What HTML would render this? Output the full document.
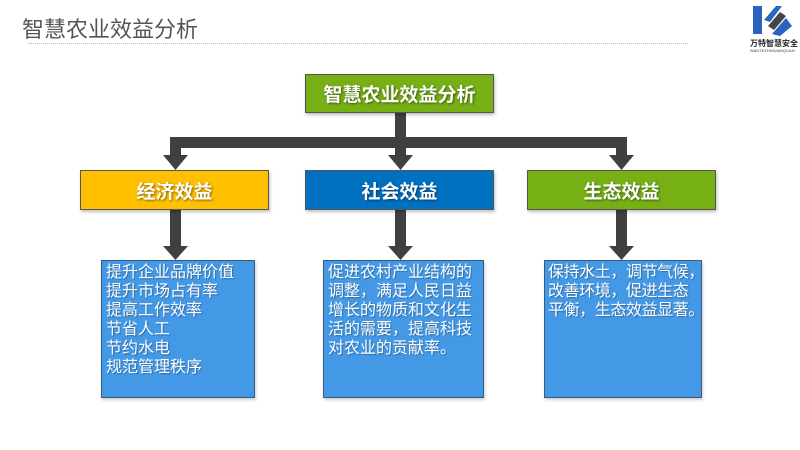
<!DOCTYPE html>
<html><head><meta charset="utf-8"><style>
body{margin:0;width:800px;height:450px;background:#fff;position:relative;overflow:hidden;font-family:"Liberation Sans","Noto Sans CJK SC",sans-serif}
.a{position:absolute}
.box{position:absolute;color:#fff;font-weight:bold;font-size:19px;display:flex;align-items:center;justify-content:center;border:1px solid #555;box-sizing:border-box;text-shadow:1px 1px 2px rgba(0,0,0,.5);box-shadow:1px 2px 3px rgba(0,0,0,.25)}
.lo{position:absolute;background:#4499E6;border:1px solid #3a5a80;box-sizing:border-box;color:#fff;font-size:16px;line-height:19px;padding:2px 4px;white-space:nowrap;box-shadow:1px 2px 3px rgba(0,0,0,.2);text-shadow:1px 1px 1px rgba(0,0,0,.3)}
</style></head><body>
<div class="a" style="left:22px;top:12px;font-size:22px;color:#555">智慧农业效益分析</div>
<div class="a" style="left:28px;top:43px;width:660px;border-top:1px dotted #bbb"></div>
<svg class="a" style="left:750px;top:4px" width="48" height="50">
<polygon points="3,2 12,2 12,30 3,30" fill="#2b63c0"/>
<polygon points="14,16 26,2 32,2 20,18" fill="#2b63c0"/>
<polygon points="18,22 30,8 36,12 24,26" fill="#444"/>
<polygon points="22,30 36,14 42,22 30,32" fill="#2b63c0"/>
<text x="0" y="42" font-size="8" font-weight="bold" fill="#222" font-family="Noto Sans CJK SC">万特智慧安全</text>
<text x="0" y="48" font-size="4" fill="#444">WANTEZHIHUIANQUAN</text>
</svg>
<svg class="a" style="left:0;top:0" width="800" height="450">
<g fill="#404040">
<rect x="395" y="112" width="11" height="30"/>
<rect x="170" y="137" width="457" height="11"/>
<rect x="170" y="137" width="11" height="20"/><polygon points="163,155 188,155 175.5,170"/>
<rect x="395" y="137" width="11" height="20"/><polygon points="388,155 413,155 400.5,170"/>
<rect x="616" y="137" width="11" height="20"/><polygon points="609,155 634,155 621.5,170"/>
<rect x="170" y="210" width="11" height="38"/><polygon points="163,246 188,246 175.5,260"/>
<rect x="395" y="210" width="11" height="38"/><polygon points="388,246 413,246 400.5,260"/>
<rect x="616" y="210" width="11" height="38"/><polygon points="609,246 634,246 621.5,260"/>
</g></svg>
<div class="box" style="left:305px;top:74px;width:189px;height:39px;background:#76B015">智慧农业效益分析</div>
<div class="box" style="left:80px;top:170px;width:189px;height:40px;background:#FFC000">经济效益</div>
<div class="box" style="left:305px;top:170px;width:189px;height:40px;background:#0070C0">社会效益</div>
<div class="box" style="left:527px;top:170px;width:189px;height:40px;background:#76B015">生态效益</div>
<div class="lo" style="left:101px;top:260px;width:154px;height:138px">提升企业品牌价值<br>提升市场占有率<br>提高工作效率<br>节省人工<br>节约水电<br>规范管理秩序</div>
<div class="lo" style="left:323px;top:260px;width:161px;height:138px">促进农村产业结构的<br>调整，满足人民日益<br>增长的物质和文化生<br>活的需要，提高科技<br>对农业的贡献率。</div>
<div class="lo" style="left:544px;top:260px;width:158px;height:138px;padding-left:3px;letter-spacing:-0.4px">保持水土，调节气候，<br>改善环境，促进生态<br>平衡，生态效益显著。</div>
</body></html>
